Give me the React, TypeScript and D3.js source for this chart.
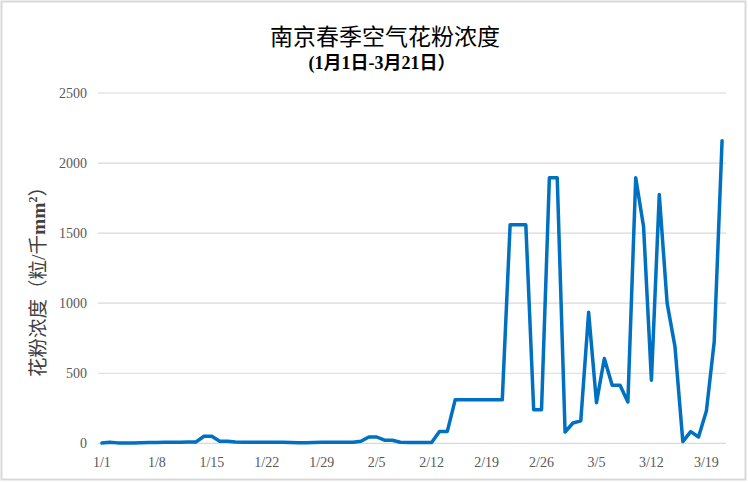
import React from "react";
import * as d3 from "d3";

const values: number[] = [
  2, 8, 3, 2, 3, 4, 5, 6, 7, 8, 8, 9, 10,
  50, 50,
  15, 14, 10, 8, 8, 8, 8, 8, 7, 5, 4, 4, 6, 7, 8, 8, 8, 8,
  15, 45, 45, 22, 22, 8, 5, 5, 5, 5,
  85, 85,
  310, 310, 310, 310, 310, 310, 310,
  1560, 1560, 1560,
  240, 240,
  1895, 1895,
  80, 145, 160, 935, 290, 605, 415, 415, 295,
  1895, 1545, 450, 1775, 1000, 690, 12, 83, 45, 230, 725, 2160,
];

function dayLabel(i: number): string {
  const d = new Date(2019, 0, 1 + i);
  return `${d.getMonth() + 1}/${d.getDate()}`;
}
const categories: string[] = values.map((_, i) => dayLabel(i));
const yTicks: number[] = [0, 500, 1000, 1500, 2000, 2500];
const tickEvery = 7;

const W = 748;
const H = 482;
const left = 98;
const right = 726;
const top = 93;
const bottom = 443.3;

export default function App() {
  const x = d3.scaleBand<string>().domain(categories).range([left, right]);
  const y = d3.scaleLinear().domain([0, 2500]).range([bottom, top]);
  const line = d3
    .line<number>()
    .x((_, i) => (x(categories[i]) as number) + x.bandwidth() / 2)
    .y((v) => y(v));
  const serif = "'Liberation Serif', 'Times New Roman', 'Noto Sans CJK SC', serif";
  return (
    <svg
      width={W}
      height={H}
      style={{ position: "absolute", left: 0, top: 0, background: "#fff" }}
    >
      <rect x={1.5} y={1.5} width={W - 4} height={H - 4} fill="#fff" stroke="#d9d9d9" strokeWidth={2} />
      <text x={385} y={45} textAnchor="middle" fontSize={23} fontFamily={serif} fill="#000">
        南京春季空气花粉浓度
      </text>
      <text x={382} y={69} textAnchor="middle" fontSize={18} fontWeight="bold" fontFamily={serif} fill="#000">
        (1月1日-3月21日）
      </text>
      {yTicks.map((t) => (
        <g key={t}>
          <line x1={left} x2={right} y1={y(t)} y2={y(t)} stroke="#d9d9d9" strokeWidth={1.2} />
          <text x={87} y={y(t) + 5} textAnchor="end" fontSize={14} fontFamily={serif} fill="#595959">
            {t}
          </text>
        </g>
      ))}
      {categories.map((c, i) =>
        i % tickEvery === 0 ? (
          <text
            key={c}
            x={(x(c) as number) + x.bandwidth() / 2}
            y={467}
            textAnchor="middle"
            fontSize={14}
            fontFamily={serif}
            fill="#595959"
          >
            {c}
          </text>
        ) : null
      )}
      <text
        transform={`translate(45,${277}) rotate(-90)`}
        textAnchor="middle"
        fontSize={19.5}
        fontFamily={serif}
        fill="#404040"
      >
        花粉浓度（粒/千<tspan fontWeight="bold">mm</tspan>
        <tspan fontWeight="bold" fontSize={12} dy={-8}>2</tspan>
        <tspan dy={8}>）</tspan>
      </text>
      <path
        d={line(values) || ""}
        fill="none"
        stroke="#0070c0"
        strokeWidth={3.5}
        strokeLinejoin="round"
        strokeLinecap="round"
      />
    </svg>
  );
}
